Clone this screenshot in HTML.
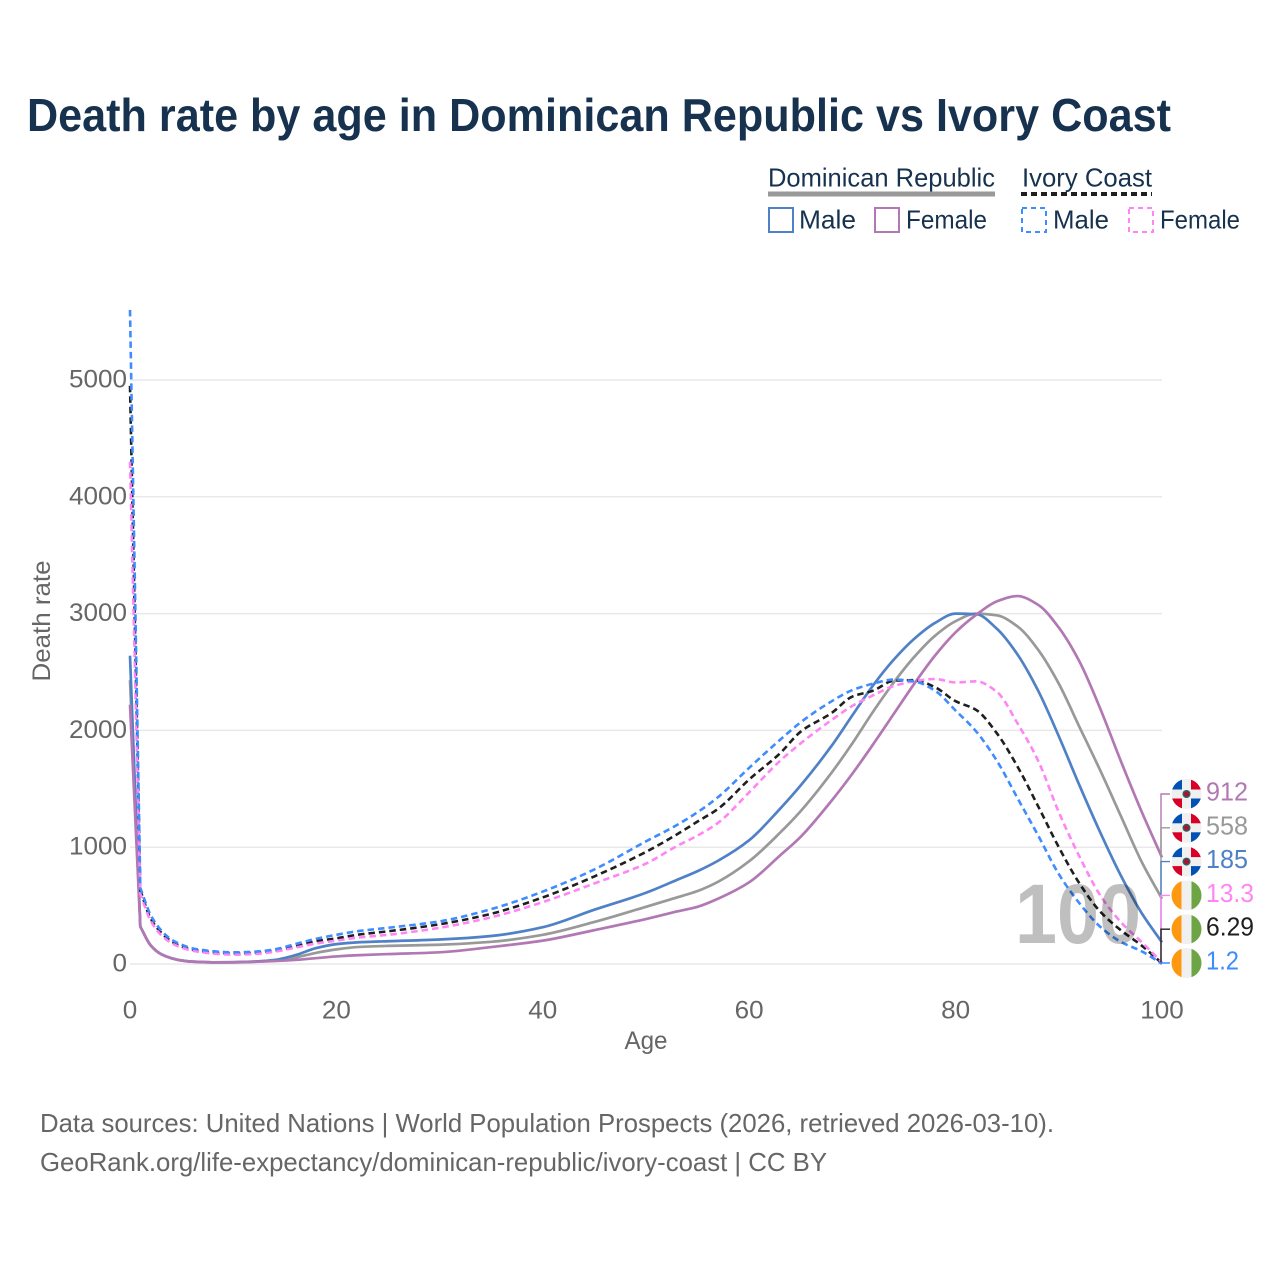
<!DOCTYPE html>
<html lang="en">
<head>
<meta charset="utf-8">
<title>Death rate by age in Dominican Republic vs Ivory Coast</title>
<style>
html,body{margin:0;padding:0;background:#fff;width:1280px;height:1280px;overflow:hidden}
svg{display:block;font-family:"Liberation Sans",sans-serif}
</style>
</head>
<body>
<svg id="chart" xmlns="http://www.w3.org/2000/svg" width="1280" height="1280" viewBox="0 0 1280 1280">
  <rect width="1280" height="1280" fill="#fff"/>
  <text x="27" y="131" font-size="46" font-weight="700" fill="#17324f" textLength="1144" lengthAdjust="spacingAndGlyphs">Death rate by age in Dominican Republic vs Ivory Coast</text>

  <g font-size="26" fill="#17324f">
    <text x="768" y="186.5" textLength="227" lengthAdjust="spacingAndGlyphs">Dominican Republic</text>
    <line x1="768" x2="995" y1="194" y2="194" stroke="#999" stroke-width="5"/>
    <text x="1022" y="186.5" textLength="130" lengthAdjust="spacingAndGlyphs">Ivory Coast</text>
    <line x1="1021" x2="1152" y1="194" y2="194" stroke="#1f1f1f" stroke-width="4" stroke-dasharray="6 4"/>
    <rect x="769" y="208" width="24" height="24" fill="none" stroke="#4f81c7" stroke-width="2"/>
    <text x="799" y="228.5" textLength="57" lengthAdjust="spacingAndGlyphs">Male</text>
    <rect x="875" y="208" width="24" height="24" fill="none" stroke="#b278b4" stroke-width="2"/>
    <text x="906" y="228.5" textLength="81" lengthAdjust="spacingAndGlyphs">Female</text>
    <rect x="1022" y="208" width="24" height="24" fill="none" stroke="#3f8cff" stroke-width="2" stroke-dasharray="5 4"/>
    <text x="1053" y="228.5" textLength="56" lengthAdjust="spacingAndGlyphs">Male</text>
    <rect x="1129" y="208" width="24" height="24" fill="none" stroke="#ff85f5" stroke-width="2" stroke-dasharray="5 4"/>
    <text x="1160" y="228.5" textLength="80" lengthAdjust="spacingAndGlyphs">Female</text>
  </g>

  <g id="grid"></g>
  <g id="yticks" font-size="25" fill="#666"></g>
  <g id="xticks" font-size="25" fill="#666"></g>
  <text x="646" y="1049" font-size="25" fill="#666" text-anchor="middle" textLength="43" lengthAdjust="spacingAndGlyphs">Age</text>
  <text transform="translate(50,621) rotate(-90)" font-size="25" fill="#666" text-anchor="middle" textLength="121" lengthAdjust="spacingAndGlyphs">Death rate</text>

  <g id="series"></g>
  <text x="1078" y="943" font-size="84" font-weight="700" fill="#000" fill-opacity="0.25" text-anchor="middle" textLength="126" lengthAdjust="spacingAndGlyphs">100</text>
  <g id="ends" font-size="26"></g>

  <text x="40" y="1132" font-size="26" fill="#666" textLength="1014" lengthAdjust="spacingAndGlyphs">Data sources: United Nations | World Population Prospects (2026, retrieved 2026-03-10).</text>
  <text x="40" y="1171" font-size="26" fill="#666" textLength="787" lengthAdjust="spacingAndGlyphs">GeoRank.org/life-expectancy/dominican-republic/ivory-coast | CC BY</text>
</svg>

<script>
const ages = [0,1,2,3,4,5,6,8,10,12,14,16,18,20,22,25,30,35,40,45,50,53,55,57,60,63,65,68,70,72,74,76,78,80,82,84,86,88,90,92,94,96,98,100];
const drMale = [2640,320,160,85,50,30,20,14,15,20,35,75,135,170,185,195,210,240,315,465,610,720,795,885,1060,1330,1530,1870,2130,2385,2605,2785,2920,3000,2995,2870,2650,2340,1950,1530,1130,760,440,185];
const drTotal = [2430,320,160,85,50,30,20,14,15,20,30,55,95,125,145,155,165,190,250,360,490,570,625,705,880,1125,1310,1640,1890,2160,2410,2630,2810,2935,3000,2985,2890,2690,2400,2030,1660,1270,880,558];
const drFemale = [2220,320,160,85,50,30,20,14,14,18,25,35,50,65,75,85,100,145,200,290,385,450,490,560,700,930,1090,1400,1630,1880,2140,2400,2640,2840,2990,3105,3150,3075,2880,2590,2190,1740,1310,912];
const icMale = [5600,650,420,290,210,165,135,110,100,105,125,170,215,250,280,310,365,470,620,810,1050,1190,1300,1430,1680,1920,2070,2250,2345,2400,2435,2420,2340,2170,1990,1740,1420,1100,770,520,320,190,110,1.2];
const icTotal = [4950,630,390,270,195,150,125,100,90,95,115,150,195,220,250,280,340,430,570,750,960,1110,1220,1330,1580,1805,1990,2150,2290,2340,2425,2430,2370,2250,2175,1975,1690,1350,1000,690,450,290,160,6.29];
const icFemale = [4300,600,370,250,180,140,115,90,80,85,105,140,175,200,225,250,310,400,530,690,860,1010,1100,1210,1470,1740,1890,2090,2210,2300,2380,2420,2440,2410,2420,2330,2060,1740,1300,920,590,360,190,13.3];
const yTickValues = [0,1000,2000,3000,4000,5000];
const xTickValues = [0,20,40,60,80,100];
const endLabels = ["912","558","185","13.3","6.29","1.2"];

const NS = "http://www.w3.org/2000/svg";
const xScale = a => 130 + a * 10.32;
const yScale = v => 964 - v * 0.1168;

function mk(parent, tag, attrs, txt) {
  const el = document.createElementNS(NS, tag);
  for (const k in attrs) el.setAttribute(k, attrs[k]);
  if (txt !== undefined) el.textContent = txt;
  parent.appendChild(el);
  return el;
}

function monotonePath(px, py) {
  const n = px.length, d = [], m = new Array(n);
  for (let i = 0; i < n - 1; i++) d.push((py[i + 1] - py[i]) / (px[i + 1] - px[i]));
  m[0] = d[0]; m[n - 1] = d[n - 2];
  for (let i = 1; i < n - 1; i++) {
    if (d[i - 1] * d[i] <= 0) { m[i] = 0; continue; }
    const h0 = px[i] - px[i - 1], h1 = px[i + 1] - px[i];
    m[i] = 3 * (h0 + h1) / ((2 * h1 + h0) / d[i - 1] + (h1 + 2 * h0) / d[i]);
  }
  m[1] = d[1];
  let s = "M" + px[0].toFixed(2) + " " + py[0].toFixed(2) + "L" + px[1].toFixed(2) + " " + py[1].toFixed(2);
  for (let i = 1; i < n - 1; i++) {
    const h = (px[i + 1] - px[i]) / 3;
    s += "C" + (px[i] + h).toFixed(2) + " " + (py[i] + m[i] * h).toFixed(2) + " " +
         (px[i + 1] - h).toFixed(2) + " " + (py[i + 1] - m[i + 1] * h).toFixed(2) + " " +
         px[i + 1].toFixed(2) + " " + py[i + 1].toFixed(2);
  }
  return s;
}

const gridG = document.getElementById("grid");
const yG = document.getElementById("yticks");
yTickValues.forEach(v => {
  const ln = mk(gridG, "line", {x1: 130, x2: 1162, y1: yScale(v), y2: yScale(v), stroke: "#e9e9e9", "stroke-width": 1.5});
  
  
  const t = mk(yG, "text", {x: 127, y: yScale(v) + 7.5, "text-anchor": "end", textLength: String(v).length * 14.5, lengthAdjust: "spacingAndGlyphs"}, String(v));
  
  
});

const xG = document.getElementById("xticks");
xTickValues.forEach(v => {
  const t = mk(xG, "text", {x: xScale(v), y: 1018.5, "text-anchor": "middle", textLength: String(v).length * 14.5, lengthAdjust: "spacingAndGlyphs"}, String(v));
  
  
});

const seriesG = document.getElementById("series");
function drawSeries(values, color, dashed, name) {
  const p = mk(seriesG, "path", {
    d: monotonePath(ages.map(xScale), values.map(yScale)),
    fill: "none", stroke: color, "stroke-width": dashed ? 2.6 : 2.7, "stroke-linejoin": "round"
  });
  if (dashed) p.setAttribute("stroke-dasharray", "6.5 4");
  
  
}
drawSeries(drTotal, "#999999", false, "line-dr-total");
drawSeries(drMale, "#4f81c7", false, "line-dr-male");
drawSeries(drFemale, "#b278b4", false, "line-dr-female");
drawSeries(icTotal, "#1f1f1f", true, "line-ic-total");
drawSeries(icFemale, "#ff85f5", true, "line-ic-female");
drawSeries(icMale, "#3f8cff", true, "line-ic-male");

const endsG = document.getElementById("ends");
const endRows = [
  {vals: drFemale, color: "#b278b4", flag: "dr", w: 42},
  {vals: drTotal, color: "#999999", flag: "dr", w: 42},
  {vals: drMale, color: "#4f81c7", flag: "dr", w: 42},
  {vals: icFemale, color: "#ff85f5", flag: "ic", w: 48},
  {vals: icTotal, color: "#1f1f1f", flag: "ic", w: 48},
  {vals: icMale, color: "#3f8cff", flag: "ic", w: 33}
];
function drawFlag(kind, cx, cy) {
  const r = 15;
  const g = mk(endsG, "g", {});
  
  
  const id = "clip" + Math.round(cy);
  const cp = mk(g, "clipPath", {id: id});
  mk(cp, "circle", {cx: cx, cy: cy, r: r});
  const inner = mk(g, "g", {"clip-path": "url(#" + id + ")"});
  mk(inner, "rect", {x: cx - r, y: cy - r, width: 2 * r, height: 2 * r, fill: "#f0f0f0"});
  if (kind === "dr") {
    const w = 4.5;
    mk(inner, "rect", {x: cx - r, y: cy - r, width: r - w, height: r - w, fill: "#0052b4"});
    mk(inner, "rect", {x: cx + w, y: cy - r, width: r - w, height: r - w, fill: "#d80027"});
    mk(inner, "rect", {x: cx - r, y: cy + w, width: r - w, height: r - w, fill: "#d80027"});
    mk(inner, "rect", {x: cx + w, y: cy + w, width: r - w, height: r - w, fill: "#0052b4"});
    mk(inner, "circle", {cx: cx, cy: cy, r: 4, fill: "#2f5f5a"});
    mk(inner, "circle", {cx: cx, cy: cy, r: 2.5, fill: "#b01030"});
  } else {
    mk(inner, "rect", {x: cx - r, y: cy - r, width: 10, height: 2 * r, fill: "#ff9811"});
    mk(inner, "rect", {x: cx + 5, y: cy - r, width: 10, height: 2 * r, fill: "#6da544"});
  }
}
endRows.forEach((row, i) => {
  const tickY = 794 + i * 33.8;
  const endY = yScale(row.vals[row.vals.length - 1]);
  const c = mk(endsG, "path", {d: "M1161 " + endY.toFixed(1) + "V" + tickY.toFixed(1) + "H1170", fill: "none", stroke: row.color, "stroke-width": 1.4});
  
  
  drawFlag(row.flag, 1186.5, tickY);
  const t = mk(endsG, "text", {x: 1206, y: tickY + 6.5, fill: row.color, textLength: row.w, lengthAdjust: "spacingAndGlyphs"}, endLabels[i]);
  
  
});
</script>
</body>
</html>
